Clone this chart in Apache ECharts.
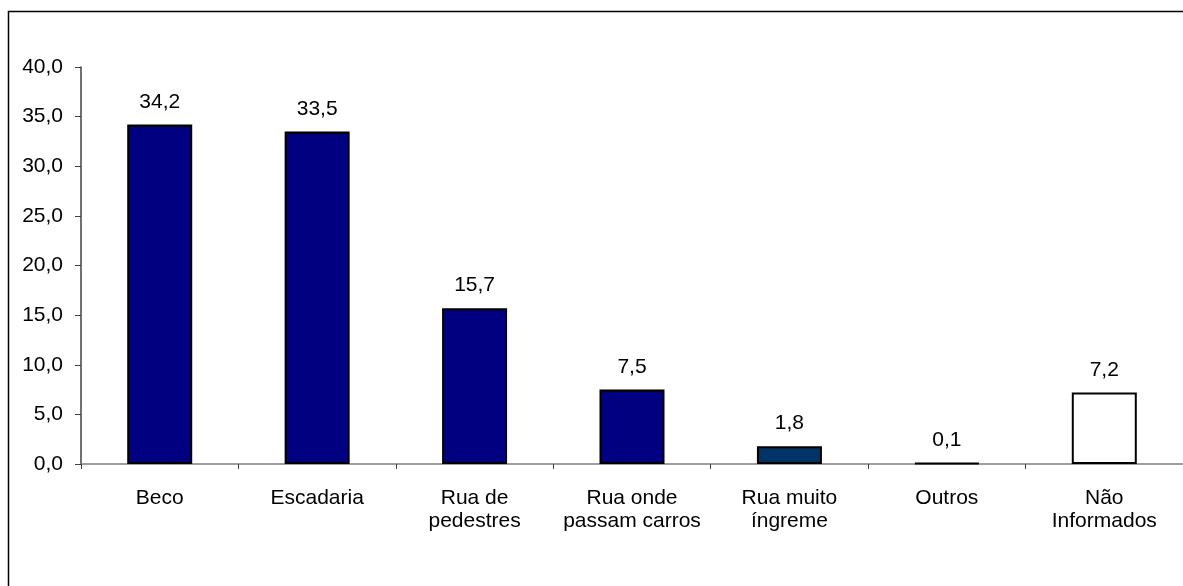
<!DOCTYPE html>
<html>
<head>
<meta charset="utf-8">
<title></title>
<script src="https://cdn.jsdelivr.net/npm/echarts@6/dist/echarts.min.js"></script>
<style>
	html, body { margin: 0; padding: 0; background: #fff; }
	#chart { width: 1183px; height: 586px; }
</style>
</head>
<body>
<div id="chart"></div>
<script>
	var categories = ['Beco', 'Escadaria', 'Rua de\npedestres', 'Rua onde\npassam carros', 'Rua muito\níngreme', 'Outros', 'Não\nInformados'];
	var values = [34.2, 33.5, 15.7, 7.5, 1.8, 0.1, 7.2];
	var barColors = ['#000080', '#000080', '#000080', '#000080', '#003366', '#000080', '#ffffff'];
	var yTicks = { min: 0, max: 40, interval: 5 };

	// 34.2 -> "34,2"
	function fmt(v) {
		return Number(v).toFixed(1).replace('.', ',');
	}

	var myChart = echarts.init(document.getElementById('chart'));
	myChart.setOption({
		animation: false,
		textStyle: { fontFamily: 'Liberation Sans, Arial, sans-serif' },
		graphic: [{
			type: 'rect',
			shape: { x: 8.5, y: 11.5, width: 1200, height: 600 },
			style: { fill: 'none', stroke: '#000', lineWidth: 1.5 },
			silent: true
		}],
		grid: {
			left: 81,
			top: 67,
			width: 1105,
			height: 397,
			containLabel: false
		},
		xAxis: {
			type: 'category',
			data: categories,
			axisLine: { lineStyle: { color: '#808080', width: 1.5 } },
			axisTick: { show: true, length: 5, lineStyle: { color: '#404040' } },
			axisLabel: {
				color: '#000',
				fontSize: 21,
				lineHeight: 23,
				margin: 23,
				interval: 0
			}
		},
		yAxis: {
			type: 'value',
			min: yTicks.min,
			max: yTicks.max,
			interval: yTicks.interval,
			axisLine: { show: true, lineStyle: { color: '#404040', width: 1.5 } },
			axisTick: { show: true, length: 6, lineStyle: { color: '#404040' } },
			splitLine: { show: false },
			axisLabel: {
				color: '#000',
				fontSize: 21,
				margin: 18,
				formatter: fmt
			}
		},
		series: [{
			type: 'bar',
			barWidth: 65,
			data: values.map(function (v, i) {
				return {
					value: v,
					itemStyle: { color: barColors[i], borderColor: '#000', borderWidth: 2 }
				};
			}),
			label: {
				show: true,
				position: 'top',
				distance: 12,
				color: '#000',
				fontSize: 21,
				formatter: function (p) { return fmt(p.value); }
			}
		}]
	});
</script>
</body>
</html>
